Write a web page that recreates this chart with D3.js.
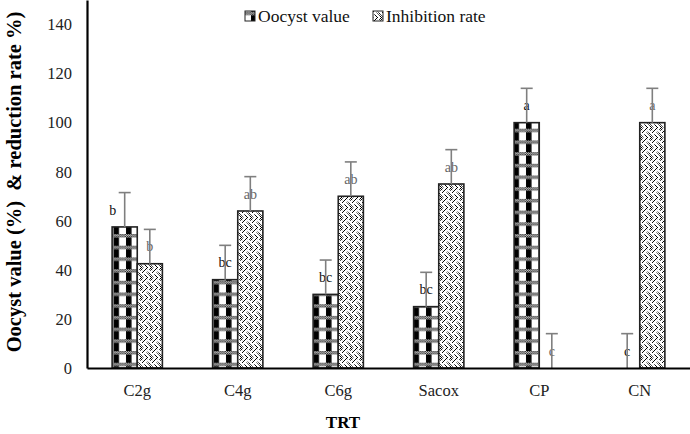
<!DOCTYPE html>
<html><head><meta charset="utf-8">
<script src="https://cdn.jsdelivr.net/npm/d3@7"></script>
<style>body{margin:0;background:#fff}svg{display:block}</style>
</head><body>
<svg id="c" width="690" height="434"></svg>
<script>
const categories = ["C2g","C4g","C6g","Sacox","CP","CN"];
const seriesNames = ["Oocyst value","Inhibition rate"];
const oocyst = [57.5, 36, 30, 25, 100, 0];
const inhibition = [42.5, 64, 70, 75, 0, 100];
const oocystErr = [14, 14, 14, 14, 14, 14];
const inhibitionErr = [14, 14, 14, 14, 14, 14];
const oocystLetters = ["b","bc","bc","bc","a","c"];
const inhibitionLetters = ["b","ab","ab","ab","c","a"];
const yTicks = [0,20,40,60,80,100,120,140];

(function(){
const svg = d3.select("#c");
const serif = "'Liberation Serif','Times New Roman',serif";
const mLeft = 87, mRight = 690, mBottom = 368, mTop = 0;

// patterns
const defs = svg.append("defs");
const chk = defs.append("pattern").attr("id","chk").attr("patternUnits","userSpaceOnUse").attr("width",2).attr("height",2);
chk.append("rect").attr("width",2).attr("height",2).attr("fill","#fff");
chk.append("rect").attr("width",1).attr("height",1).attr("fill","#000");
chk.append("rect").attr("x",1).attr("y",1).attr("width",1).attr("height",1).attr("fill","#000");

const p1 = defs.append("pattern").attr("id","poo").attr("patternUnits","userSpaceOnUse").attr("width",12.5).attr("height",11.7);
p1.append("rect").attr("width",12.5).attr("height",11.7).attr("fill","#fff");
p1.append("rect").attr("x",1).attr("width",5.5).attr("height",11.7).attr("fill","#000");
p1.append("rect").attr("y",0).attr("width",12.5).attr("height",3.5).attr("fill","url(#chk)");

const p2 = defs.append("pattern").attr("id","pin").attr("patternUnits","userSpaceOnUse").attr("width",10).attr("height",10);
p2.append("rect").attr("width",10).attr("height",10).attr("fill","url(#chk)");
p2.append("path").attr("d","M0,2.5 L2.5,0 M0,2.5 L5,7.5 L2.5,10 M5,2.5 L7.5,0 L10,2.5 M5,2.5 L7.5,5 M10,7.5 L7.5,10 M7.5,5 L10,7.5 M2.5,5 L5,2.5")
  .attr("stroke","#fff").attr("stroke-width",1.8).attr("fill","none");

const x0 = d3.scaleBand().domain(categories).range([mLeft, mRight]).paddingInner(0.5).paddingOuter(0.25);
const x1 = d3.scaleBand().domain(seriesNames).range([0, x0.bandwidth()]);
const y = d3.scaleLinear().domain([0,150]).range([mBottom, mTop]);

const rows = categories.map((c,i)=>[
  {cat:c, s:seriesNames[0], v:oocyst[i], e:oocystErr[i], l:oocystLetters[i], fill:"url(#poo)", lc:"#111"},
  {cat:c, s:seriesNames[1], v:inhibition[i], e:inhibitionErr[i], l:inhibitionLetters[i], fill:"url(#pin)", lc:"#666"}
]).flat();

// y axis
const ya = svg.append("g").attr("transform",`translate(${mLeft},0)`)
  .call(d3.axisLeft(y).tickValues(yTicks).tickSize(0).tickPadding(15));
ya.select(".domain").attr("stroke","#000").attr("stroke-width",2.2);
ya.selectAll("text").attr("font-family",serif).attr("font-size",16.5).attr("fill","#222");

// bars
const g = svg.append("g");
g.selectAll("rect.bar").data(rows.filter(d=>d.v>0)).join("rect").attr("class","bar")
  .attr("x",d=>x0(d.cat)+x1(d.s)).attr("width",x1.bandwidth())
  .attr("y",d=>y(d.v)).attr("height",d=>y(0)-y(d.v))
  .attr("fill",d=>d.fill).attr("stroke","#222").attr("stroke-width",1.6);

// letters
g.selectAll("text.lt").data(rows).join("text").attr("class","lt")
  .attr("x",(d,i)=>x0(d.cat)+x1(d.s)+x1.bandwidth()/2 - (i===0?12:0))
  .attr("y",d=>y(d.v+d.e/2)).attr("dy","0.35em").attr("text-anchor","middle")
  .attr("font-family",serif).attr("font-size",14).attr("fill",d=>d.lc).text(d=>d.l);

// error bars
const eb = g.selectAll("g.eb").data(rows).join("g").attr("class","eb")
  .attr("stroke","#7f7f7f").attr("stroke-width",1.6);
eb.append("line").attr("x1",d=>x0(d.cat)+x1(d.s)+x1.bandwidth()/2).attr("x2",d=>x0(d.cat)+x1(d.s)+x1.bandwidth()/2)
  .attr("y1",d=>y(d.v)).attr("y2",d=>y(d.v+d.e));
eb.append("line").attr("x1",d=>x0(d.cat)+x1(d.s)+x1.bandwidth()/2-6).attr("x2",d=>x0(d.cat)+x1(d.s)+x1.bandwidth()/2+6)
  .attr("y1",d=>y(d.v+d.e)).attr("y2",d=>y(d.v+d.e));

// x axis
const xa = svg.append("g").attr("transform",`translate(0,${mBottom})`)
  .call(d3.axisBottom(x0).tickSize(0).tickPadding(16));
xa.select(".domain").attr("stroke","#000").attr("stroke-width",2.2);
xa.selectAll("text").attr("font-family",serif).attr("font-size",16.5).attr("fill","#222");

// titles
svg.append("text").attr("x",343).attr("y",428).attr("text-anchor","middle")
  .attr("font-family",serif).attr("font-weight","bold").attr("font-size",17).text("TRT");
svg.append("text").attr("transform","translate(21,182) rotate(-90)").attr("text-anchor","middle")
  .attr("font-family",serif).attr("font-weight","bold").attr("font-size",20.5)
  .style("white-space","pre").text("Oocyst value (%)  & reduction rate %)");

// legend
const lg = svg.append("g");
const lx = [245, 373];
const lfill = ["url(#poo)","url(#pin)"];
seriesNames.forEach((s,i)=>{
  lg.append("rect").attr("x",lx[i]).attr("y",11).attr("width",10).attr("height",10)
    .attr("fill",lfill[i]).attr("stroke","#222").attr("stroke-width",1);
  lg.append("text").attr("x",lx[i]+13).attr("y",22).attr("font-family",serif).attr("font-size",17.5)
    .attr("fill","#111").text(s);
});
})();
</script>
</body></html>
